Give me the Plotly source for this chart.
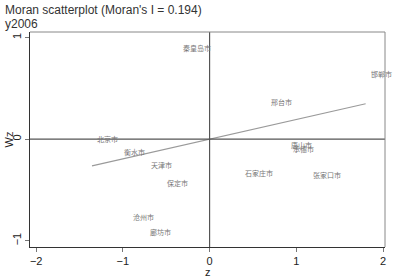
import plotly.graph_objects as go
import numpy as np

cities = ["秦皇岛市", "邯郸市", "邢台市", "北京市", "衡水市", "天津市", "保定市",
          "唐山市", "承德市", "石家庄市", "张家口市", "沧州市", "廊坊市"]
z = [-0.37, 1.80, 0.645, -1.356, -1.05, -0.73, -0.545,
     0.885, 0.91, 0.345, 1.14, -0.945, -0.74]
wz = [0.895, 0.645, 0.365, 0.0, -0.13, -0.25, -0.435,
      -0.06, -0.10, -0.33, -0.35, -0.77, -0.915]
moran_i = 0.194
title_text = "Moran scatterplot (Moran's I = 0.194)"
subtitle_text = "y2006"
x_title = "z"
y_title = "Wz"

fig = go.Figure()

# reference lines
fig.add_shape(type="line", x0=0, x1=0, y0=0, y1=1, xref="x", yref="paper",
              line=dict(color="#555555", width=1.2))
fig.add_shape(type="line", x0=0, x1=1, y0=0, y1=0, xref="paper", yref="y",
              line=dict(color="#555555", width=1.2))

# fit line
xs = np.array([min(z), max(z)])
fig.add_trace(go.Scatter(x=xs, y=moran_i * xs, mode="lines",
                         line=dict(color="#9a9a9a", width=1.1),
                         hoverinfo="skip", showlegend=False))

# invisible points
fig.add_trace(go.Scatter(x=z, y=wz, mode="markers",
                         marker=dict(size=1, opacity=0), showlegend=False))

for c, xv, yv in zip(cities, z, wz):
    fig.add_annotation(x=xv, y=yv, text=c, showarrow=False, xanchor="left",
                       yanchor="middle", xshift=3,
                       font=dict(family="Noto Sans CJK SC", size=7, color="#767676"))

fig.add_annotation(x=0, y=1, xref="paper", yref="paper", xanchor="left", yanchor="bottom",
                   xshift=-27, yshift=13, text=title_text, showarrow=False,
                   font=dict(family="Liberation Sans", size=12, color="#333333"))
fig.add_annotation(x=0, y=1, xref="paper", yref="paper", xanchor="left", yanchor="bottom",
                   xshift=-27, yshift=-1, text=subtitle_text, showarrow=False,
                   font=dict(family="Liberation Sans", size=12, color="#333333"))
fig.add_annotation(x=0.5, y=0, xref="paper", yref="paper", xanchor="center", yanchor="top",
                   yshift=-17, text=x_title, showarrow=False,
                   font=dict(family="Liberation Sans", size=11, color="#222222"))
fig.add_annotation(x=0, y=0.5, xref="paper", yref="paper", xanchor="right", yanchor="middle",
                   xshift=-14, text=y_title, showarrow=False, textangle=-90,
                   font=dict(family="Liberation Sans", size=11, color="#222222"))

fig.update_layout(
    width=394, height=277,
    margin=dict(l=30, r=9, t=32, b=30),
    plot_bgcolor="white", paper_bgcolor="white",
    font=dict(family="Liberation Sans", size=11, color="#222222"),
    xaxis=dict(range=[-2.071, 2.023], tickvals=[-2, -1, 0, 1, 2],
               ticks="outside", ticklen=4, tickcolor="#777777", automargin=False,
               showgrid=False, zeroline=False, showline=True, linecolor="#333333",
               linewidth=1, mirror=False),
    yaxis=dict(range=[-1.062, 1.055], tickvals=[-1, 0, 1], tickangle=-90,
               ticks="outside", ticklen=4, tickcolor="#777777", automargin=False,
               showgrid=False, zeroline=False, showline=True, linecolor="#333333",
               linewidth=1, mirror=False),
)
# top and right frame
fig.add_shape(type="line", x0=0, x1=1, y0=1, y1=1, xref="paper", yref="paper",
              line=dict(color="#888888", width=1))
fig.add_shape(type="line", x0=1, x1=1, y0=0, y1=1, xref="paper", yref="paper",
              line=dict(color="#888888", width=1))

fig.write_html("out.html", config={"displayModeBar": False},
               post_script="document.body.style.margin='0';document.body.style.overflow='hidden';")
